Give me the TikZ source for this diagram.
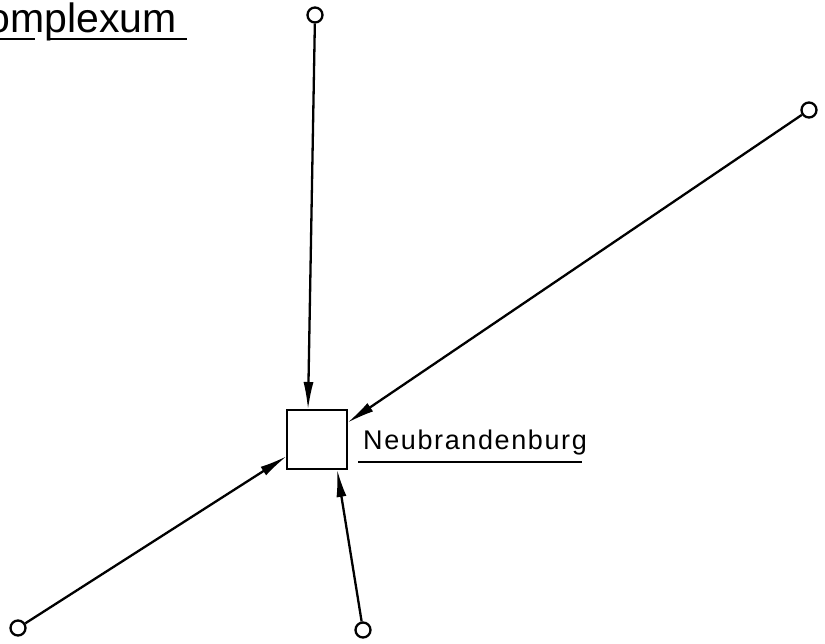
\documentclass[tikz,border=0pt]{standalone}
\usepackage{fontspec}
\setmainfont{Liberation Sans}
\newfontfamily\lab{Liberation Sans}[LetterSpace=6]
\usetikzlibrary{arrows.meta}
\begin{document}
\begin{tikzpicture}[x=1pt,y=-1pt,
  end/.style={circle,draw,line width=2.3pt,minimum size=15pt,inner sep=0pt,fill=white},
  conn/.style={line width=2.3pt,-{Latex[length=28pt,width=10pt]}},
  ul/.style={line width=2.2pt}]
\useasboundingbox (0,0) rectangle (825,644);
\clip (0,0) rectangle (825,644);
% title
\node[anchor=base east,inner sep=0pt,font=\fontsize{41}{41}\selectfont] (title) at (177,33) {Komplexum};
\draw[ul] (0,39) -- (35,39);
\draw[ul] (50,39) -- (187,39);
% centre box
\node[draw,line width=2.3pt,minimum width=60pt,minimum height=59pt,inner sep=0pt] (box) at (317,439.5) {};
\node[anchor=base west,inner sep=0pt,font=\lab\fontsize{27}{27}\selectfont] (nb) at (363,449) {Neubrandenburg};
\draw[ul] (358,462) -- (582,462);
% end circles
\node[end] (t) at (315,15) {};
\node[end] (r) at (809,110) {};
\node[end] (bl) at (18,628) {};
\node[end] (b) at (363,630) {};
% arrow targets on the box
\coordinate (tin) at (308,410);
\coordinate (rin) at (347,423);
\coordinate (blin) at (287,456);
\coordinate (bin) at (337,469);
\draw[conn] (t) -- (tin);
\draw[conn] (r) -- (rin);
\draw[conn] (bl) -- (blin);
\draw[conn] (b) -- (bin);
\end{tikzpicture}
\end{document}
